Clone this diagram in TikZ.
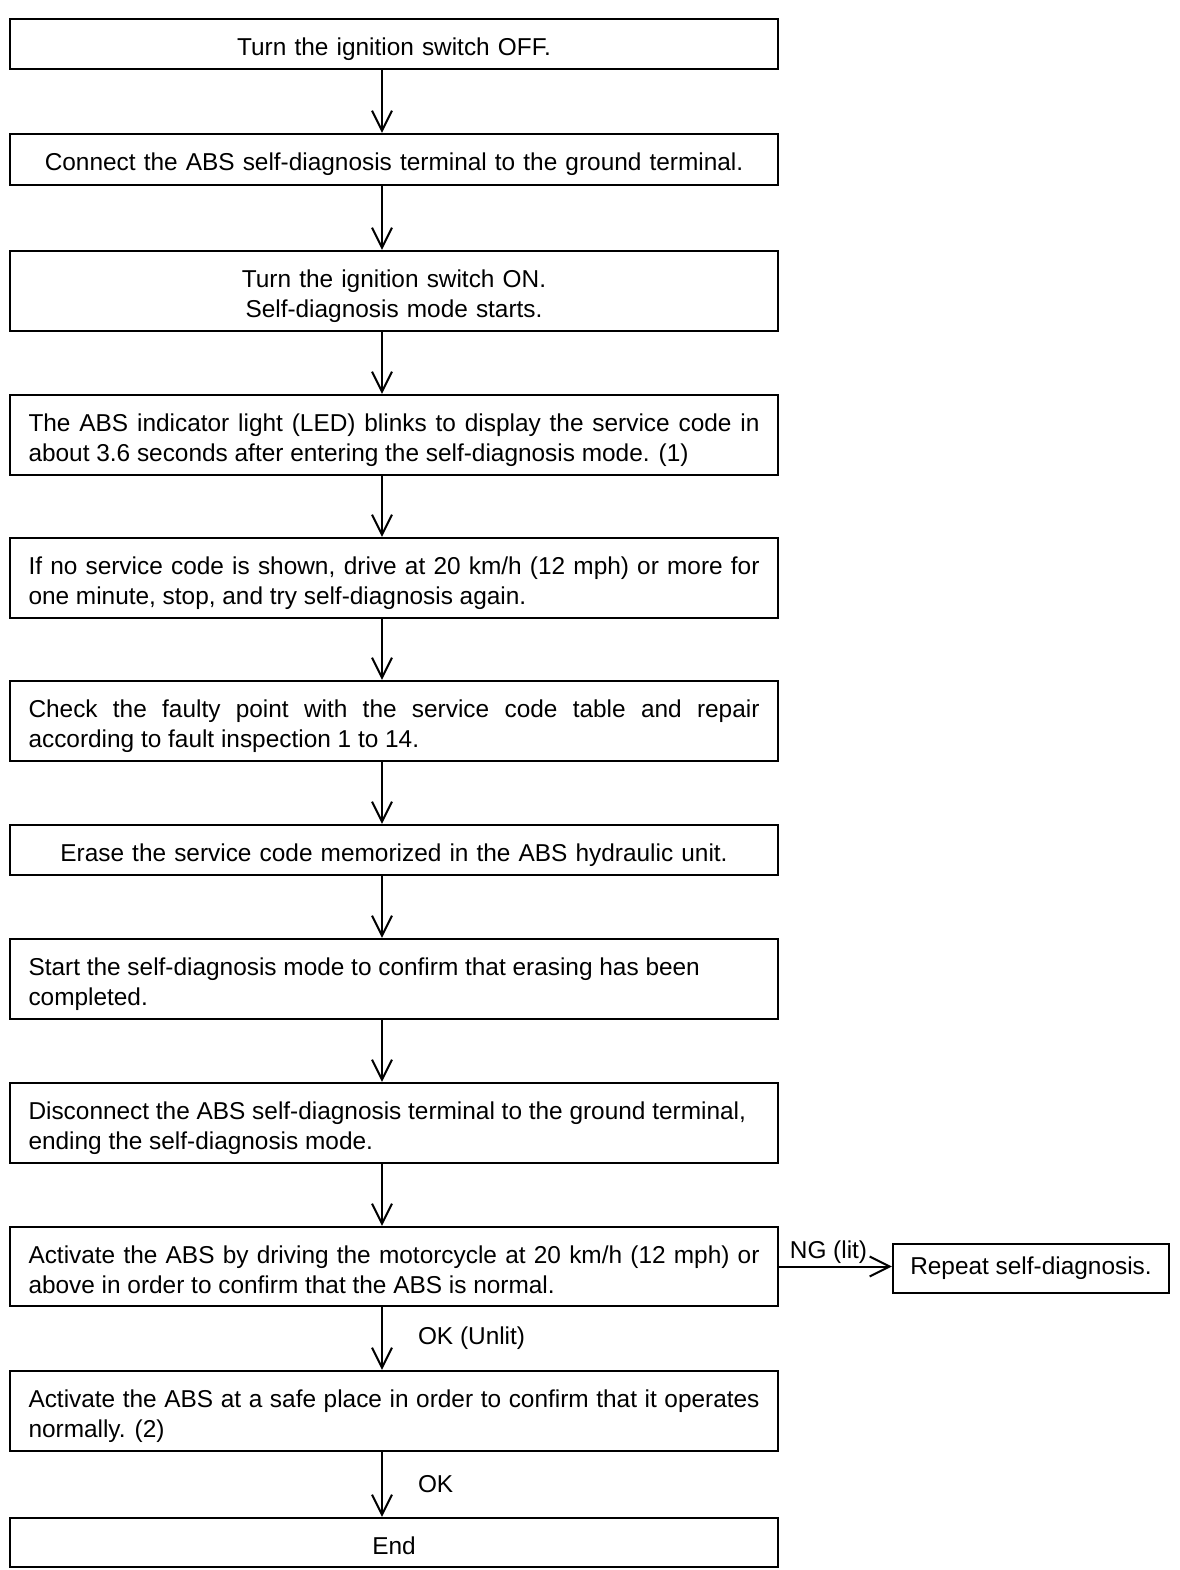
\documentclass[tikz,border=0pt]{standalone}
\usepackage{fontspec}
\setmainfont{Liberation Sans}
\usetikzlibrary{arrows.meta}
\newcommand{\fsz}{\fontsize{24.4}{30}\selectfont}
\begin{document}
\begin{tikzpicture}[x=1pt,y=-1pt,
  box/.style={draw, line width=2.2pt, minimum width=768pt, text width=731pt, inner xsep=0pt, inner ysep=0pt, font=\fsz,
    execute at begin node={\rule{0pt}{29pt}}, execute at end node={\rule[-6pt]{0pt}{0pt}}},
  cbox/.style={box, align=center},
  lbox/.style={box, align=justify},
  arr/.style={line width=2pt, -{Straight Barb[length=20pt,width=20pt,line width=2pt]}},
  lbl/.style={font=\fsz, inner sep=2pt}
]
\useasboundingbox (0,0) rectangle (1179,1570);
\node[cbox, minimum height=50pt] (b1) at (394,44) {Turn the ignition switch OFF.};
\node[cbox, minimum height=51pt] (b2) at (394,159.5) {Connect the ABS self-diagnosis terminal to the ground terminal.};
\node[cbox, minimum height=80pt] (b3) at (394,291) {Turn the ignition switch ON.\\Self-diagnosis mode starts.};
\node[lbox, minimum height=80pt] (b4) at (394,435) {The ABS indicator light (LED) blinks to display the service code in\linebreak about 3.6 seconds after entering the self-diagnosis mode. (1)};
\node[lbox, minimum height=80pt] (b5) at (394,578) {If no service code is shown, drive at 20 km/h (12 mph) or more for\linebreak one minute, stop, and try self-diagnosis again.};
\node[lbox, minimum height=80pt] (b6) at (394,721) {Check the faulty point with the service code table and repair\linebreak according to fault inspection 1 to 14.};
\node[cbox, minimum height=50pt] (b7) at (394,850) {Erase the service code memorized in the ABS hydraulic unit.};
\node[lbox, minimum height=80pt] (b8) at (394,979) {Start the self-diagnosis mode to confirm that erasing has been\\completed.};
\node[lbox, minimum height=80pt] (b9) at (394,1123) {Disconnect the ABS self-diagnosis terminal to the ground terminal,\\ending the self-diagnosis mode.};
\node[lbox, minimum height=79pt] (b10) at (394,1266.5) {Activate the ABS by driving the motorcycle at 20 km/h (12 mph) or\linebreak above in order to confirm that the ABS is normal.};
\node[lbox, minimum height=80pt] (b11) at (394,1411) {Activate the ABS at a safe place in order to confirm that it operates\linebreak normally. (2)};
\node[cbox, minimum height=49pt] (b12) at (394,1542.5) {End};
\node[draw, line width=2.2pt, minimum width=276pt, minimum height=49pt, inner sep=0pt, font=\fsz] (rep) at (1031,1268.5) {Repeat self-diagnosis.};

\foreach \a/\b in {b1/b2,b2/b3,b3/b4,b4/b5,b5/b6,b6/b7,b7/b8,b8/b9,b9/b10}
  \draw[arr] ([xshift=-12pt]\a.south) -- ([xshift=-12pt]\b.north);
\draw[arr] ([xshift=-12pt]b10.south) -- node[lbl, right, xshift=33pt]{OK (Unlit)} ([xshift=-12pt]b11.north);
\draw[arr] ([xshift=-12pt]b11.south) -- node[lbl, right, xshift=33pt]{OK} ([xshift=-12pt]b12.north);
\draw[arr] (b10.east) -- node[lbl, above, xshift=-7pt]{NG (lit)} (b10.east -| rep.west);
\end{tikzpicture}
\end{document}
